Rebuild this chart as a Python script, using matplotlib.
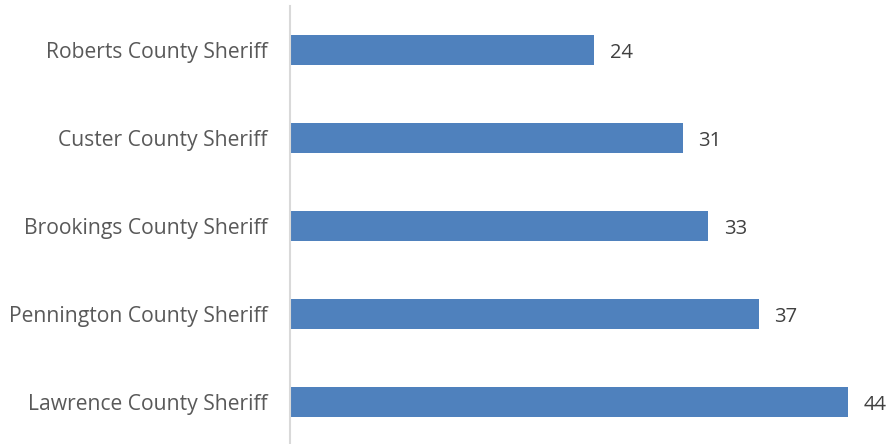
import matplotlib.pyplot as plt

agencies = ["Roberts County Sheriff", "Custer County Sheriff", "Brookings County Sheriff",
            "Pennington County Sheriff", "Lawrence County Sheriff"]
counts = [24, 31, 33, 37, 44]

plt.rcParams['font.family'] = ['Open Sans', 'DejaVu Sans']

fig = plt.figure(figsize=(8.93, 4.44), dpi=100)
ax = fig.add_axes([290 / 893, -2 / 444, 603 / 893, 440 / 444])

pos = list(range(len(agencies)))
ax.barh(pos, counts, height=0.35, color='#4F81BD')
ax.set_ylim(len(agencies) - 0.5, -0.5)
ax.set_xlim(0, 603 / 12.68)

for y, v in zip(pos, counts):
    ax.text(v + 1.2, y + 0.03, str(v), va='center', ha='left', fontsize=14.5, color='#404040')

ax.set_yticks(pos)
ax.set_yticklabels(agencies, fontsize=15.2, color='#595959')
ax.tick_params(axis='y', length=0, pad=16)
ax.set_xticks([])
for s in ['top', 'right', 'bottom']:
    ax.spines[s].set_visible(False)
ax.spines['left'].set_color('#D9D9D9')
ax.spines['left'].set_linewidth(1.5)

fig.savefig('out.png', dpi=100)
